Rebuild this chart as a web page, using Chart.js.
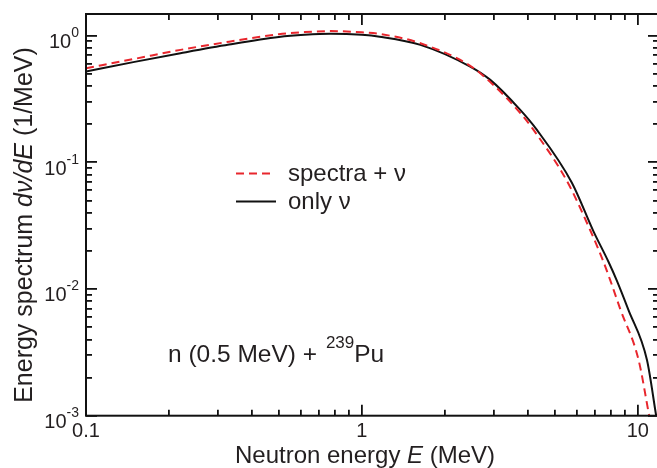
<!DOCTYPE html>
<html>
<head>
<meta charset="utf-8">
<script src="https://cdn.jsdelivr.net/npm/chart.js@4"></script>
<style>
html,body{margin:0;padding:0;background:#fff;overflow:hidden;}
#wrap{width:660px;height:468px;position:relative;}
</style>
</head>
<body>
<div id="wrap"><canvas id="c" width="660" height="468"></canvas></div>
<script>
// ---- data ----
const energyOnly   = [0.1, 0.15, 0.22, 0.33, 0.5, 0.62, 0.77, 1.0, 1.16, 1.63, 2.47, 2.92, 3.75, 4.31, 5.77, 6.91, 7.83, 8.39, 9.25, 10.8, 11.66];
const onlyNu       = [0.52, 0.62, 0.726, 0.85, 0.975, 1.015, 1.035, 1.015, 0.98, 0.845, 0.569, 0.447, 0.259, 0.18, 0.069, 0.0285, 0.0164, 0.0117, 0.00684, 0.00275, 0.001];
const energySpectra= [0.1, 0.15, 0.22, 0.33, 0.5, 0.62, 0.77, 1.0, 1.16, 1.63, 2.47, 2.92, 3.75, 4.19, 5.53, 6.72, 7.47, 7.94, 8.63, 10.07, 11.0];
const spectraNu    = [0.553, 0.655, 0.771, 0.895, 1.025, 1.065, 1.085, 1.06, 1.03, 0.87, 0.577, 0.43, 0.245, 0.18, 0.0715, 0.0292, 0.0169, 0.0118, 0.0070, 0.00275, 0.001];
const xTickValues  = [0.1, 1, 10];
const xTickLabels  = ["0.1", "1", "10"];
const yTickExps    = [0, -1, -2, -3];
const seriesLabels = ["spectra + \u03BD", "only \u03BD"];

const FONT = '"Liberation Sans", Arial, Helvetica, sans-serif';
const TXT = '#231f20';
const RED = '#e8262d';
const X_MIN = 0.1, X_MAX = 11.94, Y_MIN = 0.001, Y_MAX = 1.48;

const toPts = (xs, ys) => xs.map((v, i) => ({x: v, y: ys[i]}));

const isDecade = v => Math.abs(Math.log10(v) - Math.round(Math.log10(v))) < 1e-6;
const isMinor = v => {
  const e = Math.floor(Math.log10(v) + 1e-9);
  const m = v / Math.pow(10, e);
  return Math.abs(m - Math.round(m)) < 1e-6 && Math.round(m) >= 2 && Math.round(m) <= 9;
};

// tick-only scales (inward tick marks drawn by Chart.js itself)
function tickScale(axis, position, major) {
  const isX = axis === 'x';
  return {
    type: 'logarithmic', axis: axis, position: position,
    min: isX ? X_MIN : Y_MIN, max: isX ? X_MAX : Y_MAX,
    ticks: { display: false, autoSkip: false },
    border: { display: false },
    title: { display: false },
    grid: { display: true, drawOnChartArea: false, drawTicks: true,
            tickLength: major ? -11 : -6, tickWidth: 1.8, tickColor: '#111111', color: '#111111', lineWidth: 1.8 },
    afterBuildTicks: s => { s.ticks = s.ticks.filter(t => major ? isDecade(t.value) : isMinor(t.value)); },
    afterFit: s => { if (isX) { s.height = 0; } else { s.width = 0; } }
  };
}

const frameAndText = {
  id: 'frameAndText',
  afterDraw(chart) {
    const ctx = chart.ctx;
    const a = chart.chartArea;
    const x = chart.scales.x, y = chart.scales.y;
    ctx.save();
    ctx.lineWidth = 2;
    ctx.strokeStyle = '#111111';
    ctx.strokeRect(a.left, a.top, a.right - a.left, a.bottom - a.top);

    ctx.fillStyle = TXT;
    ctx.textBaseline = 'alphabetic';
    ctx.font = '20px ' + FONT;
    ctx.textAlign = 'center';
    xTickValues.forEach((v, i) => {
      ctx.fillText(xTickLabels[i], x.getPixelForValue(v), 437);
    });
    yTickExps.forEach(e => {
      const py = y.getPixelForValue(Math.pow(10, e));
      const sup = String(e);
      ctx.font = '14px ' + FONT;
      const sw = ctx.measureText(sup).width;
      const right = 79;
      ctx.textAlign = 'left';
      ctx.fillText(sup, right - sw, py + 1.5);
      ctx.font = '20px ' + FONT;
      ctx.textAlign = 'right';
      ctx.fillText('10', right - sw, py + 12.5);
    });

    const drawParts = (parts, size, cx, cy) => {
      let total = 0;
      parts.forEach(p => { ctx.font = p[1] + ' ' + size + 'px ' + FONT; total += ctx.measureText(p[0]).width; });
      let cur = cx - total / 2;
      ctx.textAlign = 'left';
      parts.forEach(p => { ctx.font = p[1] + ' ' + size + 'px ' + FONT; ctx.fillText(p[0], cur, cy); cur += ctx.measureText(p[0]).width; });
    };
    drawParts([['Neutron energy ', 'normal'], ['E', 'italic'], [' (MeV)', 'normal']], 24, 365, 463);

    ctx.save();
    ctx.translate(32, 225);
    ctx.rotate(-Math.PI / 2);
    drawParts([['Energy spectrum ', 'normal'], ['d\u03BD/dE', 'italic'], [' (1/MeV)', 'normal']], 25, 0, 0);
    ctx.restore();

    const ds = chart.data.datasets;
    const legendRows = [{y: 173.5, x0: 236, x1: 273, tb: 181}, {y: 201.5, x0: 236, x1: 276, tb: 209}];
    ds.forEach((d, i) => {
      const r = legendRows[i];
      ctx.save();
      ctx.strokeStyle = d.borderColor;
      ctx.lineWidth = d.borderWidth;
      ctx.setLineDash(d.borderDash || []);
      ctx.beginPath(); ctx.moveTo(r.x0, r.y); ctx.lineTo(r.x1, r.y); ctx.stroke();
      ctx.restore();
      ctx.fillStyle = TXT;
      ctx.font = '24px ' + FONT;
      ctx.textAlign = 'left';
      ctx.fillText(d.label, 288, r.tb);
    });

    ctx.font = '24.5px ' + FONT;
    ctx.textAlign = 'left';
    const t1 = 'n (0.5 MeV) + ';
    ctx.fillText(t1, 168, 362);
    let cx = 168 + ctx.measureText(t1).width + 2;
    ctx.font = '17px ' + FONT;
    ctx.fillText('239', cx, 348);
    cx += ctx.measureText('239').width;
    ctx.font = '24.5px ' + FONT;
    ctx.fillText('Pu', cx, 362);
    ctx.restore();
  }
};

new Chart(document.getElementById('c'), {
  type: 'line',
  data: {
    datasets: [
      { label: seriesLabels[0], data: toPts(energySpectra, spectraNu), xAxisID: 'x', yAxisID: 'y', borderColor: RED, borderWidth: 2, borderDash: [8, 5], pointRadius: 0, cubicInterpolationMode: 'monotone' },
      { label: seriesLabels[1], data: toPts(energyOnly, onlyNu), xAxisID: 'x', yAxisID: 'y', borderColor: '#111', borderWidth: 2, pointRadius: 0, cubicInterpolationMode: 'monotone' }
    ]
  },
  options: {
    responsive: false,
    animation: false,
    layout: { padding: { left: 86, top: 14, right: 1, bottom: 52.3 } },
    plugins: { legend: { display: false }, tooltip: { enabled: false } },
    scales: {
      x: { type: 'logarithmic', min: X_MIN, max: X_MAX, display: false },
      y: { type: 'logarithmic', min: Y_MIN, max: Y_MAX, display: false },
      xMajB: tickScale('x', 'bottom', true),
      xMinB: tickScale('x', 'bottom', false),
      xMajT: tickScale('x', 'top', true),
      xMinT: tickScale('x', 'top', false),
      yMajL: tickScale('y', 'left', true),
      yMinL: tickScale('y', 'left', false),
      yMajR: tickScale('y', 'right', true),
      yMinR: tickScale('y', 'right', false)
    }
  },
  plugins: [frameAndText]
});
</script>
</body>
</html>
